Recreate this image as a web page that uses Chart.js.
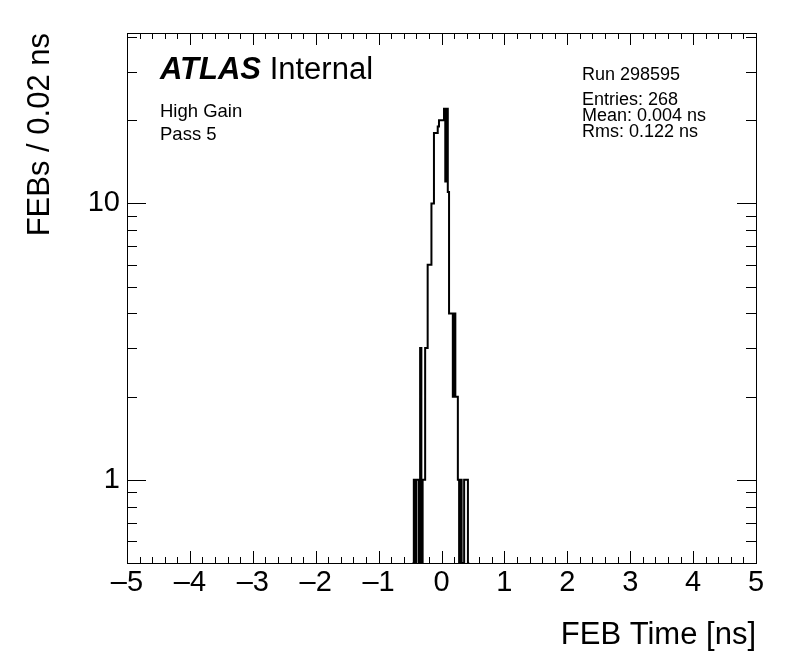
<!DOCTYPE html>
<html>
<head>
<meta charset="utf-8">
<script src="https://cdn.jsdelivr.net/npm/chart.js@4.4.0/dist/chart.umd.min.js"></script>
<style>
  html, body { margin: 0; padding: 0; background: #fff; }
  #wrap { width: 796px; height: 672px; position: relative; }
</style>
</head>
<body>
<div id="wrap"><canvas id="febChart" width="796" height="672"></canvas></div>
<script>
// FEB time histogram, 0.02 ns bins

// bin centres [ns]
const binCenters = [
  -0.45, -0.43, -0.41, -0.39, -0.37, -0.35, -0.33, -0.31, -0.29, -0.27,
  -0.25, -0.23, -0.21, -0.19, -0.17, -0.15, -0.13, -0.11, -0.09, -0.07,
  -0.05, -0.03, -0.01,  0.01,  0.03,  0.05,  0.07,  0.09,  0.11,  0.13,
   0.15,  0.17,  0.19,  0.21,  0.23,  0.25,  0.27,  0.29,  0.31,  0.33,
   0.35,  0.37,  0.39,  0.41,  0.43
];
// FEBs per bin
const febCounts = [
   0,  1,  0,  1,  1,  0,  3,  0,  1,  1,
   3,  3,  6,  6,  6, 10, 10, 18, 18, 18,
  19, 20, 20, 20, 20, 22, 12, 22, 11,  4,
   4,  4,  2,  4,  2,  2,  1,  0,  1,  0,
   0,  1,  1,  1,  0
];
const BIN_WIDTH = 0.02;

const xTickValues = [-5, -4, -3, -2, -1, 0, 1, 2, 3, 4, 5];
const yTickValues = [1, 10];

const X_MIN = -5, X_MAX = 5;
const Y_MIN = 0.5, Y_MAX = 41.4;

const FONT = '"Liberation Sans", Arial, Helvetica, sans-serif';

// step outline points (left edge of each bin), empty bins dropped to the floor
function buildOutline() {
  const pts = [];
  const first = binCenters[0] - BIN_WIDTH / 2;
  pts.push({ x: first, y: Y_MIN });
  binCenters.forEach((c, i) => {
    const v = febCounts[i] > 0 ? febCounts[i] : Y_MIN;
    pts.push({ x: c - BIN_WIDTH / 2, y: v });
  });
  const last = binCenters[binCenters.length - 1] + BIN_WIDTH / 2;
  pts.push({ x: last, y: Y_MIN });
  return pts;
}

function fmtMinus(v) {
  return v < 0 ? '\u2013' + Math.abs(v) : String(v);
}

// ROOT style frame, inside ticks, labels
const rootFrame = {
  id: 'rootFrame',
  afterDatasetsDraw(chart) {
    const { ctx, chartArea: a, scales } = chart;
    const xs = scales.x, ys = scales.y;
    ctx.save();
    ctx.strokeStyle = '#000';
    ctx.lineWidth = 1;

    ctx.strokeRect(a.left + 0.5, a.top + 0.5, a.right - a.left, a.bottom - a.top);

    ctx.beginPath();
    // x ticks: major every 1, minor every 0.2
    for (let k = -25; k <= 25; k++) {
      const v = k / 5;
      const px = Math.round(xs.getPixelForValue(v)) + 0.5;
      const len = (k % 5 === 0) ? 12 : 6;
      ctx.moveTo(px, a.bottom); ctx.lineTo(px, a.bottom - len);
      ctx.moveTo(px, a.top); ctx.lineTo(px, a.top + len);
    }
    // y ticks: log decades
    for (let dec = 0.1; dec <= 100; dec *= 10) {
      for (let m = 1; m <= 9; m++) {
        const v = m * dec;
        if (v < Y_MIN || v > Y_MAX) continue;
        const py = Math.round(ys.getPixelForValue(v)) + 0.5;
        const len = (m === 1) ? 19 : 10;
        ctx.moveTo(a.left, py); ctx.lineTo(a.left + len, py);
        ctx.moveTo(a.right, py); ctx.lineTo(a.right - len, py);
      }
    }
    ctx.stroke();

    // labels
    ctx.fillStyle = '#000';
    ctx.textBaseline = 'alphabetic';
    ctx.textAlign = 'left';
    ctx.font = 'bold italic 31px ' + FONT;
    ctx.fillText('ATLAS', 160, 79);
    const w = ctx.measureText('ATLAS ').width;
    ctx.font = '31px ' + FONT;
    ctx.fillText('Internal', 160 + w, 79);

    ctx.font = '18.5px ' + FONT;
    ctx.fillText('High Gain', 160, 117);
    ctx.fillText('Pass 5', 160, 140);

    ctx.font = '18px ' + FONT;
    ctx.fillText('Run 298595', 582, 80);
    ctx.fillText('Entries: 268', 582, 105);
    ctx.fillText('Mean: 0.004 ns', 582, 121);
    ctx.fillText('Rms: 0.122 ns', 582, 137);
    ctx.restore();
  }
};

const chart = new Chart(document.getElementById('febChart'), {
  type: 'line',
  data: {
    datasets: [{
      data: buildOutline(),
      stepped: 'before',
      borderColor: '#000',
      borderWidth: 2,
      pointRadius: 0,
      fill: false
    }]
  },
  options: {
    responsive: false,
    animation: false,
    layout: { padding: { top: 33, right: 40, left: 0, bottom: 0 } },
    plugins: { legend: { display: false }, tooltip: { enabled: false } },
    scales: {
      x: {
        type: 'linear',
        min: X_MIN,
        max: X_MAX,
        afterBuildTicks: s => { s.ticks = xTickValues.map(v => ({ value: v })); },
        afterFit: s => { s.height = 109; },
        grid: { display: false, drawTicks: false },
        border: { display: false },
        ticks: {
          autoSkip: false,
          maxRotation: 0,
          padding: 3,
          color: '#000',
          font: { family: FONT, size: 29 },
          callback: v => fmtMinus(v)
        },
        title: {
          display: true,
          text: 'FEB Time [ns]',
          align: 'end',
          color: '#000',
          font: { family: FONT, size: 31 },
          padding: { top: 0, bottom: 18 }
        }
      },
      y: {
        type: 'logarithmic',
        min: Y_MIN,
        max: Y_MAX,
        afterBuildTicks: s => { s.ticks = yTickValues.map(v => ({ value: v })); },
        afterFit: s => { s.width = 127; },
        grid: { display: false, drawTicks: false },
        border: { display: false },
        ticks: {
          padding: 7,
          color: '#000',
          font: { family: FONT, size: 29 },
          callback: v => String(v)
        },
        title: {
          display: true,
          text: 'FEBs / 0.02 ns',
          align: 'end',
          color: '#000',
          font: { family: FONT, size: 31 },
          padding: { top: 22, bottom: 0 }
        }
      }
    }
  },
  plugins: [rootFrame]
});
</script>
</body>
</html>
